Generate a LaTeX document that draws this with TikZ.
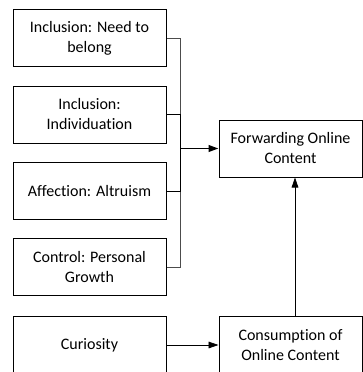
\documentclass[tikz,border=0pt]{standalone}
\usepackage{fontspec}
\setmainfont{Carlito}[Ligatures=NoCommon]
\usetikzlibrary{arrows.meta}
\begin{document}
\begin{tikzpicture}[x=0.75pt,y=-0.75pt,
  box/.style={draw=black,line width=0.75pt,minimum width=153*0.75pt,minimum height=57*0.75pt,
    align=center,inner sep=0pt,font=\fontsize{12}{15}\selectfont},
  rbox/.style={box,minimum width=143*0.75pt},
  conn/.style={draw=black!70,line width=0.6pt},
  tip/.style={-{Triangle[length=7.5pt,width=5pt]}}]
\useasboundingbox (0,0) rectangle (363,372);
\node[box] (b1) at (89.5,38) {Inclusion: Need to\\belong};
\node[box] (b2) at (89.5,114.5) {Inclusion:\\Individuation};
\node[box] (b3) at (89.5,191) {Affection: Altruism};
\node[box] (b4) at (89.5,267) {Control: Personal\\Growth};
\node[box] (b5) at (89.5,345) {Curiosity};
\node[rbox] (fwd) at (290.5,148.5) {Forwarding Online\\Content};
\node[rbox] (con) at (290.5,345) {Consumption of\\Online Content};
\coordinate (jn) at (180,148.5);
\draw[conn] (b1.east) -| (jn);
\draw[conn] (b4.east) -| (jn);
\draw[black,line width=0.75pt] (b2.east) -| (jn);
\draw[black,line width=0.75pt] (b3.east) -| (jn);
\draw[black,line width=1.4pt,tip] (jn) -- (fwd.west);
\draw[black,line width=0.6pt,tip] (b5.east) -- (con.west);
\draw[black,line width=0.6pt,tip] (con.north -| 295,0) -- (fwd.south -| 295,0);
\end{tikzpicture}
\end{document}
